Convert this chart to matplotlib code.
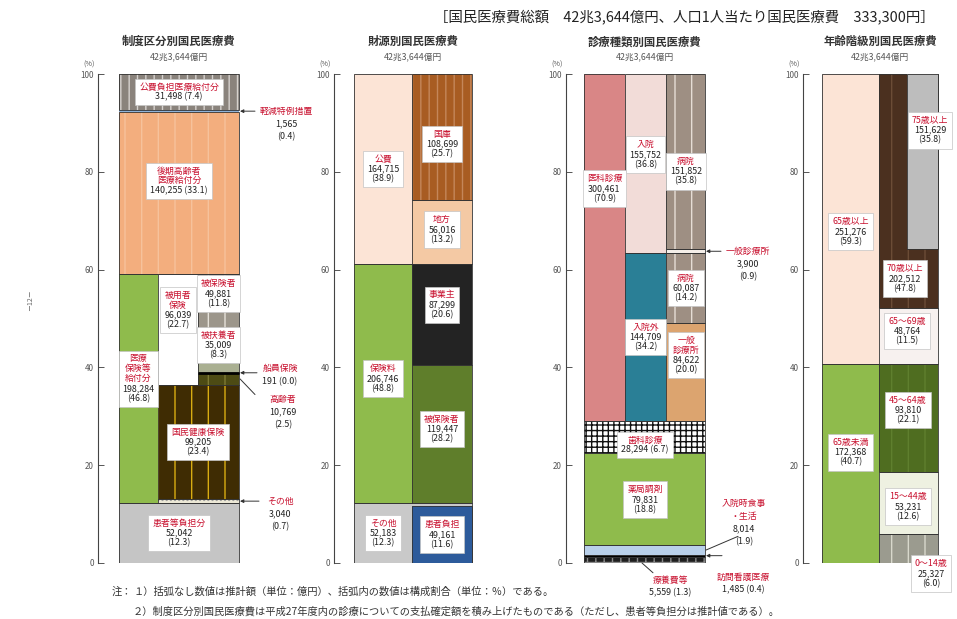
"""国民医療費の構造 (平成27年度) - 4本の帯グラフ"""
import numpy as np
import matplotlib
matplotlib.use('Agg')
import matplotlib.pyplot as plt
from matplotlib.offsetbox import TextArea, VPacker, AnnotationBbox

plt.rcParams['font.family'] = ['Noto Sans CJK JP', 'DejaVu Sans']
plt.rcParams['hatch.linewidth'] = 1.0

W, H = 957, 619
RED = '#c8102e'
INK = '#222222'
EDGE = '#333333'
FS = 6.4

# ── data (億円, 構成割合 %) ─────────────────────────────────────────
total_label = '42兆3,644億円'
header = '［国民医療費総額　42兆3,644億円、人口1人当たり国民医療費　333,300円］'
titles = ['制度区分別国民医療費', '財源別国民医療費', '診療種類別国民医療費', '年齢階級別国民医療費']

# 制度区分別 (下から)
seido_names = ['患者等負担分', '医療保険等給付分', '後期高齢者医療給付分', '軽減特例措置', '公費負担医療給付分']
seido_amt = [52042, 198284, 140255, 1565, 31498]
seido_pct = [12.3, 46.8, 33.1, 0.4, 7.4]
hoken_names = ['その他', '国民健康保険', '被用者保険']
hoken_amt = [3040, 99205, 96039]
hoken_pct = [0.7, 23.4, 22.7]
hiyo_names = ['高齢者', '船員保険', '被扶養者', '被保険者']
hiyo_amt = [10769, 191, 35009, 49881]
hiyo_pct = [2.5, 0.0, 8.3, 11.8]

# 財源別
zaigen_names = ['その他', '保険料', '公費']
zaigen_amt = [52183, 206746, 164715]
zaigen_pct = [12.3, 48.8, 38.9]
kanja_name, kanja_amt, kanja_pct = '患者負担', 49161, 11.6
zsub_names = ['被保険者', '事業主', '地方', '国庫']
zsub_amt = [119447, 87299, 56016, 108699]
zsub_pct = [28.2, 20.6, 13.2, 25.7]

# 診療種類別
shin_names = ['療養費等', '訪問看護医療', '入院時食事・生活', '薬局調剤', '歯科診療', '医科診療']
shin_amt = [5559, 1485, 8014, 79831, 28294, 300461]
shin_pct = [1.3, 0.4, 1.9, 18.8, 6.7, 70.9]
ika_names = ['入院外', '入院']
ika_amt = [144709, 155752]
ika_pct = [34.2, 36.8]
shisetsu_names = ['一般診療所', '病院', '一般診療所', '病院']
shisetsu_amt = [84622, 60087, 3900, 151852]
shisetsu_pct = [20.0, 14.2, 0.9, 35.8]

# 年齢階級別
age_names = ['65歳未満', '65歳以上']
age_amt = [172368, 251276]
age_pct = [40.7, 59.3]
asub_names = ['0〜14歳', '15〜44歳', '45〜64歳', '65〜69歳', '70歳以上']
asub_amt = [25327, 53231, 93810, 48764, 202512]
asub_pct = [6.0, 12.6, 22.1, 11.5, 47.8]
over75_name, over75_amt, over75_pct = '75歳以上', 151629, 35.8

notes = ['１）括弧なし数値は推計額（単位：億円）、括弧内の数値は構成割合（単位：％）である。',
         '２）制度区分別国民医療費は平成27年度内の診療についての支払確定額を積み上げたものである（ただし、患者等負担分は推計値である）。']


def bottoms(pcts, start=0.0):
    return start + np.concatenate([[0], np.cumsum(pcts)[:-1]])


def fa(a):
    return f'{a:,}'


def fp(p):
    return f'({p:.1f})'


def seg(ax, x, w, b, h, fc, hatch=None, hc=None, ec=EDGE, lw=0.6):
    ax.bar(x, h, w, bottom=b, align='edge', color=fc,
           edgecolor=hc if hatch else fc, hatch=hatch, linewidth=0)
    if ec:
        ax.bar(x, h, w, bottom=b, align='edge', fill=False, edgecolor=ec, linewidth=lw)


def box(ax, x, y, name, nums, fs=FS, frame=True):
    kids = [TextArea(s, textprops=dict(color=RED, fontsize=fs)) for s in name.split('\n')]
    kids += [TextArea(s, textprops=dict(color=INK, fontsize=fs)) for s in nums.split('\n')]
    pack = VPacker(children=kids, align='center', pad=0, sep=0.6)
    ab = AnnotationBbox(pack, (x, y), frameon=frame, pad=0.28, fontsize=10,
                        bboxprops=dict(facecolor='white', edgecolor='#c4c4c4', linewidth=0.5),
                        annotation_clip=False, zorder=5)
    ax.add_artist(ab)


def note(ax, x, y, red_lines, ink_lines, fs=FS, step=2.6):
    for i, s in enumerate(red_lines + ink_lines):
        ax.text(x, y - i * step, s, color=RED if i < len(red_lines) else INK,
                fontsize=fs, ha='center', va='center')


def arrow(ax, xy, xytext, head=True):
    ax.annotate('', xy=xy, xytext=xytext,
                arrowprops=dict(arrowstyle='-|>' if head else '-', lw=0.7, color=EDGE,
                                mutation_scale=5, shrinkA=0, shrinkB=0))


def panel(x0, w, title, cx):
    ax = fig.add_axes([x0 / W, (H - 563) / H, w / W, 489 / H])
    ax.set_xlim(0, w)
    ax.set_ylim(0, 100)
    for s in ['top', 'right', 'bottom']:
        ax.spines[s].set_visible(False)
    ax.spines['left'].set_color('#444444')
    ax.spines['left'].set_linewidth(0.8)
    ax.set_xticks([])
    ax.set_yticks(range(0, 101, 20))
    ax.tick_params(axis='y', direction='in', length=4, width=0.7, labelsize=5.8,
                   pad=3, colors='#555555')
    ax.patch.set_alpha(0)
    ax.text(-9, 102.0, '(%)', fontsize=5.2, color='#555555', ha='center', va='center')
    ax.text(cx, 106.6, title, fontsize=8.2, fontweight='bold', color='#333333',
            ha='center', va='center')
    ax.text(cx, 103.5, total_label, fontsize=6.3, color='#555555', ha='center', va='center')
    return ax


fig = plt.figure(figsize=(W / 100, H / 100), dpi=100)

# ── 制度区分別 ──────────────────────────────────────────────────────
ax = panel(98, 210, titles[0], 81)
sb = bottoms(seido_pct)
hb = bottoms(hoken_pct, sb[1])
rb = bottoms(hiyo_pct, hb[2])
seg(ax, 21, 120, sb[0], seido_pct[0], '#c5c5c5')
seg(ax, 21, 39, sb[1], seido_pct[1], '#8fbb4c')
seg(ax, 60, 81, hb[0], hoken_pct[0], '#ece8d6', '....', '#9a9a9a')
seg(ax, 60, 81, hb[1], hoken_pct[1], '#3f2c03', '|', '#d9ad12')
seg(ax, 60, 40, hb[2], hoken_pct[2], 'white')
seg(ax, 100, 41, rb[0], hiyo_pct[0], '#4d4b14', '|', '#7d7a35')
seg(ax, 100, 41, rb[2], hiyo_pct[2], '#aab092')
seg(ax, 100, 41, rb[3], hiyo_pct[3], '#9c968b', '|', '#e6e2da')
ax.hlines(rb[1], 100, 141, color='black', lw=2)
seg(ax, 21, 120, sb[2], seido_pct[2], '#f3ae7e', '|', '#f6c29c')
seg(ax, 21, 120, sb[3], seido_pct[3], '#8fb3d9', ec=None)
seg(ax, 21, 120, sb[4], seido_pct[4], '#8a837c', '||', '#d6d2ce')

box(ax, 81, sb[4] + seido_pct[4] / 2, '公費負担医療給付分', f'{fa(seido_amt[4])} {fp(seido_pct[4])}')
box(ax, 81, sb[2] + seido_pct[2] / 2 + 2.5, '後期高齢者\n医療給付分', f'{fa(seido_amt[2])} {fp(seido_pct[2])}')
box(ax, 40.5, sb[1] + seido_pct[1] / 2 + 2, '医療\n保険等\n給付分', f'{fa(seido_amt[1])}\n{fp(seido_pct[1])}')
box(ax, 80, hb[2] + hoken_pct[2] / 2 + 4, '被用者\n保険', f'{fa(hoken_amt[2])}\n{fp(hoken_pct[2])}')
box(ax, 120.5, rb[3] + hiyo_pct[3] / 2 + 2, hiyo_names[3], f'{fa(hiyo_amt[3])}\n{fp(hiyo_pct[3])}')
box(ax, 120.5, rb[2] + hiyo_pct[2] / 2 + 1.5, hiyo_names[2], f'{fa(hiyo_amt[2])}\n{fp(hiyo_pct[2])}')
box(ax, 100, hb[1] + hoken_pct[1] / 2, hoken_names[1], f'{fa(hoken_amt[1])}\n{fp(hoken_pct[1])}')
box(ax, 81, sb[0] + seido_pct[0] / 2, seido_names[0], f'{fa(seido_amt[0])}\n{fp(seido_pct[0])}')

y = sb[3] + seido_pct[3] / 2
arrow(ax, (142, y), (157, y))
note(ax, 188, y, [seido_names[3]], [fa(seido_amt[3]), fp(seido_pct[3])])
y = rb[1]
arrow(ax, (142, y), (159, y))
note(ax, 182, y + 0.8, [hiyo_names[1]], [f'{fa(hiyo_amt[1])} {fp(hiyo_pct[1])}'])
y = rb[0] + hiyo_pct[0] / 2
arrow(ax, (142, y), (157, y - 3.2), head=False)
note(ax, 185, y - 4.2, [hiyo_names[0]], [fa(hiyo_amt[0]), fp(hiyo_pct[0])])
y = hb[0] + hoken_pct[0] / 2
arrow(ax, (142, y), (161, y))
note(ax, 182, y, [hoken_names[0]], [fa(hoken_amt[0]), fp(hoken_pct[0])])

# ── 財源別 ──────────────────────────────────────────────────────────
ax = panel(334, 150, titles[1], 79)
zb = bottoms(zaigen_pct)
zr = bottoms(zsub_pct, zb[1])
seg(ax, 20, 118, zb[0], zaigen_pct[0], '#c9c9c9')
seg(ax, 78, 60, 0, kanja_pct, '#2d5b9b')
seg(ax, 20, 58, zb[1], zaigen_pct[1], '#8fbb4c')
seg(ax, 20, 58, zb[2], zaigen_pct[2], '#fce4d6')
zsub_style = [('#5f7e2b', None, None), ('#232323', None, None),
              ('#f4c9a4', None, None), ('#a85c22', '||', '#c4865a')]
for i, (fc, ht, hc) in enumerate(zsub_style):
    seg(ax, 78, 60, zr[i], zsub_pct[i], fc, ht, hc)

box(ax, 49, zb[2] + zaigen_pct[2] / 2, zaigen_names[2], f'{fa(zaigen_amt[2])}\n{fp(zaigen_pct[2])}')
box(ax, 49, zb[1] + zaigen_pct[1] / 2 + 1, zaigen_names[1], f'{fa(zaigen_amt[1])}\n{fp(zaigen_pct[1])}')
box(ax, 49, zb[0] + zaigen_pct[0] / 2, zaigen_names[0], f'{fa(zaigen_amt[0])}\n{fp(zaigen_pct[0])}')
box(ax, 108, kanja_pct / 2, kanja_name, f'{fa(kanja_amt)}\n{fp(kanja_pct)}')
zdy = [1, 2, 0.5, -1.5]
for i in range(4):
    box(ax, 108, zr[i] + zsub_pct[i] / 2 + zdy[i], zsub_names[i], f'{fa(zsub_amt[i])}\n{fp(zsub_pct[i])}')

# ── 診療種類別 ──────────────────────────────────────────────────────
ax = panel(566, 205, titles[2], 79)
cb = bottoms(shin_pct)
ib = bottoms(ika_pct, cb[5])
kb = bottoms(shisetsu_pct, cb[5])
shin_style = [('#1e1e1e', '++', '#8a8a8a'), ('#000000', None, None), ('#b9d0ea', None, None),
              ('#8fbb4c', None, None), ('white', '+++', '#111111')]
for i, (fc, ht, hc) in enumerate(shin_style):
    seg(ax, 18, 121, cb[i], shin_pct[i], fc, ht, hc)
seg(ax, 18, 41, cb[5], shin_pct[5], '#d98686')
seg(ax, 59, 41, ib[0], ika_pct[0], '#2a7f96')
seg(ax, 59, 41, ib[1], ika_pct[1], '#f2dcd8')
kstyle = [('#dca46f', None, None), ('#9e8f83', '|', '#e6ddd5'),
          ('#f4eee8', None, None), ('#9e8f83', '|', '#e6ddd5')]
for i, (fc, ht, hc) in enumerate(kstyle):
    seg(ax, 100, 39, kb[i], shisetsu_pct[i], fc, ht, hc)

box(ax, 38.5, cb[5] + shin_pct[5] / 2 + 12, shin_names[5], f'{fa(shin_amt[5])}\n{fp(shin_pct[5])}')
box(ax, 79.5, ib[1] + ika_pct[1] / 2 + 1.8, ika_names[1], f'{fa(ika_amt[1])}\n{fp(ika_pct[1])}')
box(ax, 79.5, ib[0] + ika_pct[0] / 2, ika_names[0], f'{fa(ika_amt[0])}\n{fp(ika_pct[0])}')
box(ax, 120, kb[3] + shisetsu_pct[3] / 2 - 2, shisetsu_names[3], f'{fa(shisetsu_amt[3])}\n{fp(shisetsu_pct[3])}')
box(ax, 120, kb[1] + shisetsu_pct[1] / 2, shisetsu_names[1], f'{fa(shisetsu_amt[1])}\n{fp(shisetsu_pct[1])}')
box(ax, 120, kb[0] + shisetsu_pct[0] / 2 + 3.4, '一般\n診療所', f'{fa(shisetsu_amt[0])}\n{fp(shisetsu_pct[0])}')
box(ax, 79, cb[4] + shin_pct[4] / 2 - 1.6, shin_names[4], f'{fa(shin_amt[4])} {fp(shin_pct[4])}')
box(ax, 79, cb[3] + shin_pct[3] / 2, shin_names[3], f'{fa(shin_amt[3])}\n{fp(shin_pct[3])}')

y = kb[2] + shisetsu_pct[2] / 2
arrow(ax, (140, y), (155, y))
note(ax, 182, y, [shisetsu_names[2]], [fa(shisetsu_amt[2]), fp(shisetsu_pct[2])])
y = cb[2] + shin_pct[2] / 2
arrow(ax, (140, y), (172, y + 2.8), head=False)
note(ax, 178, 12.2, ['入院時食事', '・生活'], [fa(shin_amt[2]), fp(shin_pct[2])])
y = cb[1] + shin_pct[1] / 2
arrow(ax, (140, y), (156, y))
note(ax, 177, -2.9, [shin_names[1]], [f'{fa(shin_amt[1])} {fp(shin_pct[1])}'])
arrow(ax, (76, cb[0]), (87, cb[0] - 2.0), head=False)
note(ax, 104, -3.5, [shin_names[0]], [f'{fa(shin_amt[0])} {fp(shin_pct[0])}'])

# ── 年齢階級別 ──────────────────────────────────────────────────────
ax = panel(803, 150, titles[3], 77)
ab_ = bottoms(age_pct)
sb4 = bottoms(asub_pct)
seg(ax, 19, 57, ab_[0], age_pct[0], '#8fbb4c')
seg(ax, 19, 57, ab_[1], age_pct[1], '#fce4d6')
astyle = [('#9b9b8f', '|', '#d8d8cc'), ('#eef1e1', None, None), ('#4f6d20', '|', '#5f7f2e'),
          ('#f7f1ef', None, None), ('#4b301f', '|', '#6b4c36')]
for i, (fc, ht, hc) in enumerate(astyle):
    seg(ax, 76, 59, sb4[i], asub_pct[i], fc, ht, hc)
b75 = 100 - over75_pct
seg(ax, 104, 31, b75, over75_pct, '#bdbdbd')

box(ax, 47.5, ab_[1] + age_pct[1] / 2 - 2.6, age_names[1], f'{fa(age_amt[1])}\n{fp(age_pct[1])}')
box(ax, 47.5, ab_[0] + age_pct[0] / 2 + 2.3, age_names[0], f'{fa(age_amt[0])}\n{fp(age_pct[0])}')
box(ax, 127, b75 + over75_pct / 2 + 6.4, over75_name, f'{fa(over75_amt)}\n{fp(over75_pct)}')
box(ax, 102, (sb4[4] + b75) / 2, asub_names[4], f'{fa(asub_amt[4])}\n{fp(asub_pct[4])}')
box(ax, 104, sb4[3] + asub_pct[3] / 2 + 1, asub_names[3], f'{fa(asub_amt[3])}\n{fp(asub_pct[3])}')
box(ax, 105, sb4[2] + asub_pct[2] / 2 + 1.6, asub_names[2], f'{fa(asub_amt[2])}\n{fp(asub_pct[2])}')
box(ax, 105, sb4[1] + asub_pct[1] / 2 - 0.8, asub_names[1], f'{fa(asub_amt[1])}\n{fp(asub_pct[1])}')
box(ax, 128, sb4[0] - 2.2, asub_names[0], f'{fa(asub_amt[0])}\n{fp(asub_pct[0])}')

# ── page texts ──────────────────────────────────────────────────────
fig.text(935 / W, 1 - 17 / H, header, fontsize=10.4, color='#222222', ha='right', va='center')
fig.text(112 / W, 1 - 592 / H, '注：', fontsize=7.4, color='#333333', va='center')
fig.text(133 / W, 1 - 592 / H, notes[0], fontsize=7.4, color='#333333', va='center')
fig.text(133 / W, 1 - 611 / H, notes[1], fontsize=7.4, color='#333333', va='center')
fig.text(30 / W, 1 - 300 / H, '－12－', fontsize=5, color='#666666', rotation=90,
         ha='center', va='center')

fig.savefig('out.png', dpi=100)
